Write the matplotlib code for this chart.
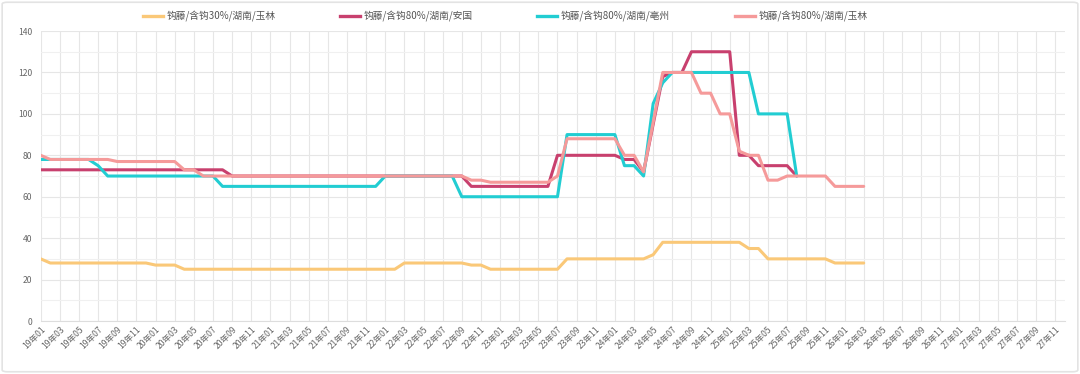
import matplotlib
matplotlib.use("Agg")
import matplotlib.pyplot as plt
from matplotlib.lines import Line2D
from matplotlib.patches import FancyBboxPatch

plt.rcParams['font.family'] = ['Noto Sans CJK SC', 'DejaVu Sans']

# x categories: monthly 19年01 .. 27年12
months = [f"{y:02d}年{m:02d}" for y in range(19, 28) for m in range(1, 13)]

names = ["钩藤/含钩30%/湖南/玉林", "钩藤/含钩80%/湖南/安国",
         "钩藤/含钩80%/湖南/亳州", "钩藤/含钩80%/湖南/玉林"]
colors = ["#FAC878", "#C8406E", "#22CDD2", "#F59A9A"]

yulin30 = [30, 28, 28, 28, 28, 28, 28, 28, 28, 28, 28, 28, 27, 27, 27, 25, 25, 25, 25, 25,
           25, 25, 25, 25, 25, 25, 25, 25, 25, 25, 25, 25, 25, 25, 25, 25, 25, 25, 28, 28,
           28, 28, 28, 28, 28, 27, 27, 25, 25, 25, 25, 25, 25, 25, 25, 30, 30, 30, 30, 30,
           30, 30, 30, 30, 32, 38, 38, 38, 38, 38, 38, 38, 38, 38, 35, 35, 30, 30, 30, 30,
           30, 30, 30, 28, 28, 28, 28]

anguo80 = [73, 73, 73, 73, 73, 73, 73, 73, 73, 73, 73, 73, 73, 73, 73, 73, 73, 73, 73, 73,
           70, 70, 70, 70, 70, 70, 70, 70, 70, 70, 70, 70, 70, 70, 70, 70, 70, 70, 70, 70,
           70, 70, 70, 70, 70, 65, 65, 65, 65, 65, 65, 65, 65, 65, 80, 80, 80, 80, 80, 80,
           80, 78, 78, 72, 95, 118, 120, 120, 130, 130, 130, 130, 130, 80, 80, 75, 75, 75, 75, 70]

bozhou80 = [78, 78, 78, 78, 78, 78, 75, 70, 70, 70, 70, 70, 70, 70, 70, 70, 70, 70, 70, 65,
            65, 65, 65, 65, 65, 65, 65, 65, 65, 65, 65, 65, 65, 65, 65, 65, 70, 70, 70, 70,
            70, 70, 70, 70, 60, 60, 60, 60, 60, 60, 60, 60, 60, 60, 60, 90, 90, 90, 90, 90,
            90, 75, 75, 70, 105, 115, 120, 120, 120, 120, 120, 120, 120, 120, 120, 100, 100, 100, 100, 70]

yulin80 = [80, 78, 78, 78, 78, 78, 78, 78, 77, 77, 77, 77, 77, 77, 77, 73, 73, 70, 70, 70,
           70, 70, 70, 70, 70, 70, 70, 70, 70, 70, 70, 70, 70, 70, 70, 70, 70, 70, 70, 70,
           70, 70, 70, 70, 70, 68, 68, 67, 67, 67, 67, 67, 67, 67, 70, 88, 88, 88, 88, 88,
           88, 80, 80, 72, 96, 120, 120, 120, 120, 110, 110, 100, 100, 82, 80, 80, 68, 68, 70, 70,
           70, 70, 70, 65, 65, 65, 65]

series = [yulin30, anguo80, bozhou80, yulin80]

W, H = 1080, 374
fig = plt.figure(figsize=(W / 100, H / 100), dpi=100)
# outer light border
border = FancyBboxPatch((0.002, 0.006), 0.996, 0.988, boxstyle="round,pad=0,rounding_size=0.005",
                        transform=fig.transFigure, fill=False, edgecolor="#e3e3e3", linewidth=1.2)
fig.patches.append(border)

ax = fig.add_axes([0.0377, 0.1417, 0.9481, 0.7753])
x_all = list(range(len(months)))

for vals, c, n in zip(series, colors, names):
    ax.plot(x_all[:len(vals)], vals, color=c, lw=2.2, label=n, solid_joinstyle='round',
            solid_capstyle='round', zorder=3)

ax.set_xlim(0, len(months) - 1)
ax.set_ylim(0, 140)
ax.set_yticks(range(0, 141, 20))
ax.set_yticks(range(10, 141, 20), minor=True)
ax.set_xticks(x_all[::2])
ax.set_xticklabels(months[::2], rotation=45, ha='right', va='top', rotation_mode='anchor',
                   fontsize=6.2, color='#666666')
ax.tick_params(axis='x', length=0, pad=3)
ax.tick_params(axis='y', which='both', length=0, pad=6, labelsize=6.2, labelcolor='#666666')
ax.grid(True, which='major', color='#e6e6e6', lw=0.8)
ax.grid(True, which='minor', axis='y', color='#f0f0f0', lw=0.8)
ax.set_axisbelow(True)
for s in ['top', 'right', 'left']:
    ax.spines[s].set_visible(False)
ax.spines['bottom'].set_color('#dddddd')

# legend drawn manually, entries in a row at the top
leg_x = [143, 340, 537, 735]
leg_y = 1 - 16 / H
for x0, c, n in zip(leg_x, colors, names):
    fig.add_artist(Line2D([x0 / W, (x0 + 20) / W], [leg_y, leg_y], color=c, lw=2.4,
                          transform=fig.transFigure))
    fig.text((x0 + 24) / W, leg_y, n, fontsize=7, color='#555555', ha='left', va='center')

fig.savefig("out.png", dpi=100)
